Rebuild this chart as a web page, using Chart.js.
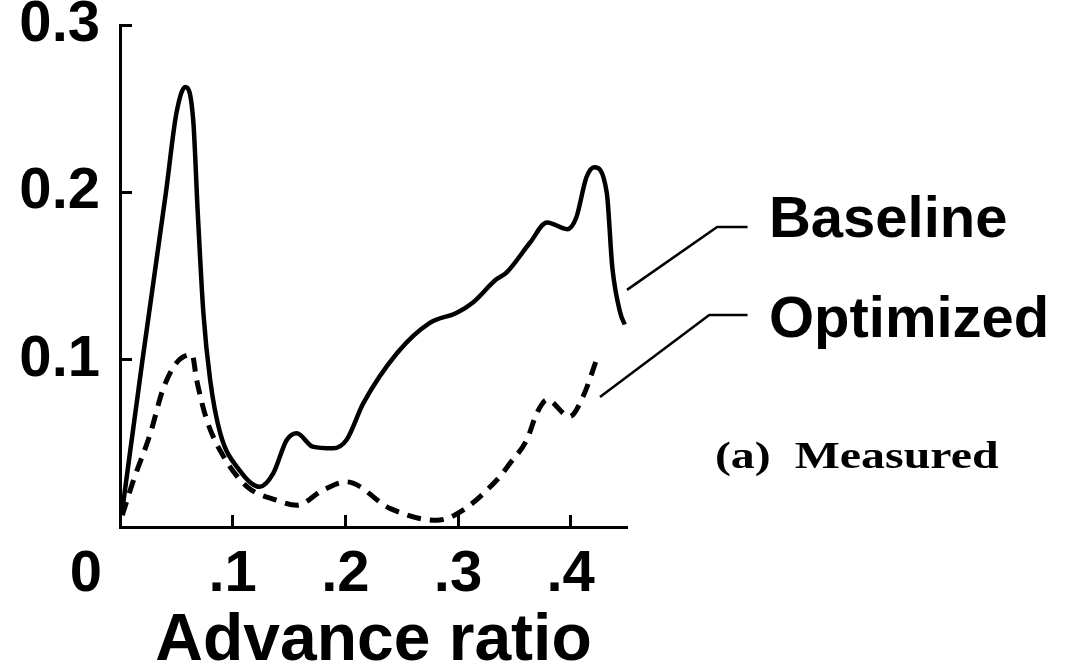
<!DOCTYPE html>
<html>
<head>
<meta charset="utf-8">
<script src="https://cdn.jsdelivr.net/npm/chart.js@4.4.0/dist/chart.umd.min.js"></script>
<style>
  html, body { margin: 0; padding: 0; background: #fff; }
  #wrap { width: 1073px; height: 668px; }
</style>
</head>
<body>
<div id="wrap"><canvas id="advChart" width="1073" height="668"></canvas></div>
<script>
  // advance ratio / value pairs
  const baselineX = [0.002, 0.020, 0.041, 0.050, 0.058, 0.065, 0.069, 0.074, 0.080, 0.089,
    0.106, 0.124, 0.136, 0.148, 0.157, 0.171, 0.189, 0.201, 0.216, 0.246, 0.275, 0.299,
    0.313, 0.334, 0.343, 0.364, 0.379, 0.397, 0.405, 0.414, 0.421, 0.432, 0.437, 0.444, 0.448];
  const baselineY = [0.010, 0.100, 0.201, 0.247, 0.263, 0.243, 0.188, 0.128, 0.088, 0.056,
    0.034, 0.024, 0.032, 0.052, 0.056, 0.048, 0.047, 0.052, 0.074, 0.104, 0.122, 0.128,
    0.134, 0.148, 0.152, 0.170, 0.182, 0.178, 0.185, 0.209, 0.215, 0.200, 0.155, 0.128, 0.121];

  const optimizedX = [0.002, 0.012, 0.027, 0.038, 0.050, 0.064, 0.068, 0.077, 0.092, 0.113,
    0.139, 0.157, 0.180, 0.201, 0.240, 0.281, 0.302, 0.337, 0.346, 0.361, 0.370, 0.379,
    0.399, 0.411, 0.424];
  const optimizedY = [0.007, 0.028, 0.056, 0.082, 0.098, 0.103, 0.088, 0.064, 0.042, 0.024,
    0.016, 0.013, 0.022, 0.027, 0.011, 0.004, 0.009, 0.030, 0.038, 0.052, 0.068, 0.076,
    0.066, 0.078, 0.102];

  const seriesNames = ['Baseline', 'Optimized'];
  const xTicks = [0, 0.1, 0.2, 0.3, 0.4];
  const yTicks = [0.1, 0.2, 0.3];
  const xTitle = 'Advance ratio';
  const panelNote = '(a)  Measured';

  const toPoints = (xs, ys) => xs.map((x, i) => ({x: x, y: ys[i]}));

  const sansBold = (size, lh) => ({family: '"Liberation Sans", Arial, sans-serif', weight: 'bold', size: size, lineHeight: lh || 1});

  // leader lines + labels on the right, placed in data units
  const labelPlugin = {
    id: 'labels',
    afterDraw(chart) {
      const ctx = chart.ctx;
      const xs = chart.scales.x, ys = chart.scales.y;
      const px = (v) => xs.getPixelForValue(v);
      const py = (v) => ys.getPixelForValue(v);

      const leaders = [
        [[0.450, 0.1417], [0.530, 0.1793], [0.557, 0.1793]],
        [[0.426, 0.0777], [0.523, 0.1267], [0.557, 0.1267]]
      ];
      ctx.save();
      ctx.strokeStyle = '#000';
      ctx.lineWidth = 2.5;
      leaders.forEach(l => {
        ctx.beginPath();
        ctx.moveTo(px(l[0][0]), py(l[0][1]));
        ctx.lineTo(px(l[1][0]), py(l[1][1]));
        ctx.lineTo(px(l[2][0]), py(l[2][1]));
        ctx.stroke();
      });

      ctx.fillStyle = '#000';
      ctx.textBaseline = 'alphabetic';
      ctx.textAlign = 'left';
      ctx.font = 'bold 58px "Liberation Sans", Arial, sans-serif';
      ctx.fillText(seriesNames[0], px(0.576), py(0.1733));
      ctx.fillText(seriesNames[1], px(0.576), py(0.1136));

      // the printed note is a bit wider than the font, stretch it
      ctx.save();
      ctx.translate(px(0.528), py(0.0353));
      ctx.scale(1.26, 1);
      ctx.font = 'bold 38px "Liberation Serif", "Times New Roman", serif';
      ctx.fillText(panelNote, 0, 0);
      ctx.restore();

      // the origin "0" sits left of the corner
      ctx.font = 'bold 58px "Liberation Sans", Arial, sans-serif';
      ctx.textAlign = 'center';
      ctx.textBaseline = 'middle';
      ctx.fillText('0', px(0) - 34, ys.bottom + 48);
      ctx.restore();
    }
  };

  const config = {
    type: 'line',
    data: {
      datasets: [{
        label: seriesNames[0],
        data: toPoints(baselineX, baselineY),
        borderColor: '#000',
        borderWidth: 4.5,
        pointRadius: 0,
        cubicInterpolationMode: 'monotone',
        fill: false
      }, {
        label: seriesNames[1],
        data: toPoints(optimizedX, optimizedY),
        borderColor: '#000',
        borderWidth: 5,
        borderDash: [14, 9],
        pointRadius: 0,
        cubicInterpolationMode: 'monotone',
        fill: false
      }]
    },
    options: {
      responsive: false,
      animation: false,
      devicePixelRatio: 1,
      layout: {
        padding: {top: 25, right: 446, left: 0, bottom: 0}
      },
      plugins: {
        legend: {display: false},
        tooltip: {enabled: false}
      },
      scales: {
        x: {
          type: 'linear',
          min: 0,
          max: 0.45,
          afterFit: (scale) => {
            scale.height = 141;
            scale.paddingLeft = 0;
            scale.paddingRight = 0;
          },
          afterBuildTicks: (scale) => { scale.ticks = xTicks.map(v => ({value: v})); },
          ticks: {
            includeBounds: false,
            color: '#000',
            padding: 31,
            font: sansBold(58),
            maxRotation: 0,
            callback: (v) => v === 0 ? '' : v.toFixed(1).replace(/^0/, '')
          },
          grid: {
            drawOnChartArea: false,
            drawTicks: true,
            tickLength: -12,
            tickWidth: 3,
            tickColor: '#000'
          },
          border: {display: true, color: '#000', width: 3},
          title: {
            display: true,
            text: xTitle,
            color: '#000',
            font: sansBold(66, 0.8),
            padding: {top: 0, bottom: 0}
          }
        },
        y: {
          type: 'linear',
          min: 0,
          max: 0.3,
          afterFit: (scale) => {
            scale.width = 120;
            scale.paddingTop = 0;
            scale.paddingBottom = 0;
          },
          afterBuildTicks: (scale) => { scale.ticks = yTicks.map(v => ({value: v})); },
          ticks: {
            color: '#000',
            padding: 32,
            font: sansBold(58, 0.8),
            callback: (v) => v.toFixed(1)
          },
          grid: {
            drawOnChartArea: false,
            drawTicks: true,
            tickLength: -12,
            tickWidth: 3,
            tickColor: '#000'
          },
          border: {display: true, color: '#000', width: 3}
        }
      }
    },
    plugins: [labelPlugin]
  };

  const advChart = new Chart(document.getElementById('advChart'), config);
</script>
</body>
</html>
